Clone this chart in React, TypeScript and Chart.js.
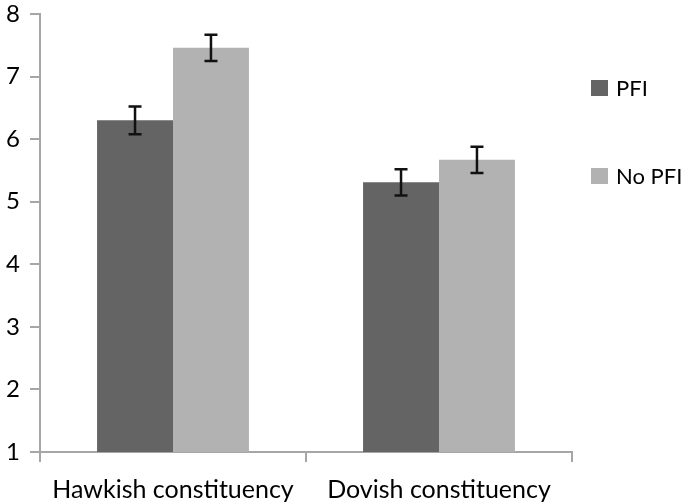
import React, { useEffect, useRef } from "react";
import { Chart, registerables } from "chart.js";

Chart.register(...registerables);

const categories = ["Hawkish constituency", "Dovish constituency"];
const seriesNames = ["PFI", "No PFI"];
const pfiValues = [6.3, 5.31];
const noPfiValues = [7.46, 5.67];
const pfiErrors = [0.22, 0.21];
const noPfiErrors = [0.21, 0.21];
const yTicks = [1, 2, 3, 4, 5, 6, 7, 8];

const DARK = "#646464";
const LIGHT = "#b2b2b2";
const AXIS = "#a6a6a6";
const FONT = "Lato, 'Open Sans', sans-serif";

const errorBarPlugin = {
  id: "errorBars",
  afterDatasetsDraw(chart: any) {
    const ctx = chart.ctx;
    const yScale = chart.scales.y;
    chart.data.datasets.forEach((ds: any, di: number) => {
      const meta = chart.getDatasetMeta(di);
      meta.data.forEach((bar: any, i: number) => {
        const v = ds.data[i];
        const e = ds.errors[i];
        const yTop = yScale.getPixelForValue(v + e);
        const yBot = yScale.getPixelForValue(v - e);
        const x = bar.x;
        const cap = 6.5;
        ctx.save();
        ctx.strokeStyle = "#111111";
        ctx.lineWidth = 2.5;
        ctx.beginPath();
        ctx.moveTo(x, yTop);
        ctx.lineTo(x, yBot);
        ctx.moveTo(x - cap, yTop);
        ctx.lineTo(x + cap, yTop);
        ctx.moveTo(x - cap, yBot);
        ctx.lineTo(x + cap, yBot);
        ctx.stroke();
        ctx.restore();
      });
    });
  },
};

const legendPlugin = {
  id: "customLegend",
  afterDraw(chart: any) {
    const ctx = chart.ctx;
    const ys = [88, 176];
    chart.data.datasets.forEach((ds: any, i: number) => {
      ctx.save();
      ctx.fillStyle = ds.backgroundColor;
      ctx.fillRect(591, ys[i] - 8, 17, 16);
      ctx.fillStyle = "#000000";
      ctx.font = `22px ${FONT}`;
      ctx.textBaseline = "middle";
      ctx.textAlign = "left";
      ctx.fillText(ds.label, 616, ys[i] + 1);
      ctx.restore();
    });
  },
};

export default function App() {
  const ref = useRef<HTMLCanvasElement>(null);
  useEffect(() => {
    document.body.style.margin = "0";
    const chart = new Chart(ref.current!, {
      type: "bar",
      data: {
        labels: categories,
        datasets: [
          {
            label: seriesNames[0],
            data: pfiValues,
            errors: pfiErrors,
            backgroundColor: DARK,
            categoryPercentage: 0.571,
            barPercentage: 1,
          } as any,
          {
            label: seriesNames[1],
            data: noPfiValues,
            errors: noPfiErrors,
            backgroundColor: LIGHT,
            categoryPercentage: 0.571,
            barPercentage: 1,
          } as any,
        ],
      },
      options: {
        animation: false,
        responsive: false,
        layout: { padding: { left: 0, top: 14, right: 113, bottom: 0 } },
        plugins: { legend: { display: false }, tooltip: { enabled: false } },
        scales: {
          y: {
            min: 1,
            max: 8,
            afterFit(scale: any) {
              scale.width = 40;
              scale.paddingTop = 0;
              scale.paddingBottom = 0;
            },
            afterBuildTicks(scale: any) {
              scale.ticks = yTicks.map((v) => ({ value: v }));
            },
            ticks: {
              color: "#000000",
              font: { family: FONT, size: 24 },
              padding: 10,
            },
            grid: {
              drawOnChartArea: false,
              drawTicks: true,
              tickLength: 10,
              color: AXIS,
              lineWidth: 2,
            },
            border: { color: AXIS, width: 2 },
          },
          x: {
            afterFit(scale: any) {
              scale.height = 50;
              scale.paddingLeft = 0;
              scale.paddingRight = 0;
            },
            ticks: {
              color: "#000000",
              font: { family: FONT, size: 25 },
              padding: 13,
            },
            grid: {
              offset: true,
              drawOnChartArea: false,
              drawTicks: true,
              tickLength: 10,
              color: AXIS,
              lineWidth: 2,
            },
            border: { color: AXIS, width: 2 },
          },
        },
      } as any,
      plugins: [errorBarPlugin, legendPlugin],
    });
    return () => chart.destroy();
  }, []);
  return (
    <div style={{ position: "absolute", left: 0, top: 0, width: 685, height: 502, background: "#fff" }}>
      <canvas ref={ref} width={685} height={502} style={{ width: 685, height: 502 }} />
    </div>
  );
}
